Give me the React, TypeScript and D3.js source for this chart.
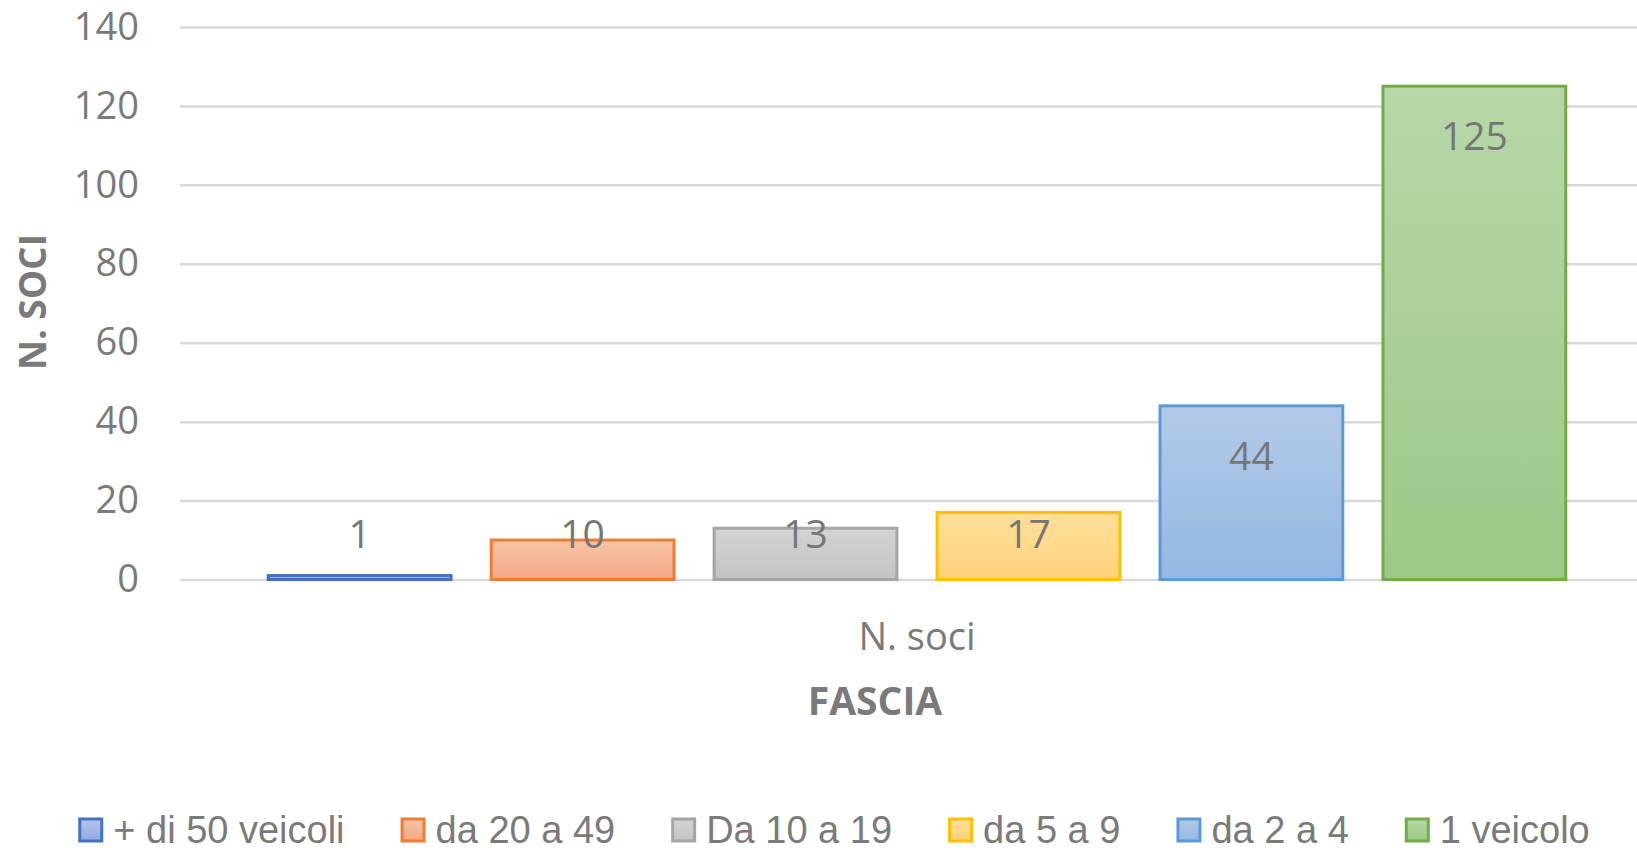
import React, { useEffect, useRef } from 'react';
import * as d3 from 'd3';

// data
const categories = ['N. soci'];
const seriesNames = ['+ di 50 veicoli', 'da 20 a 49', 'Da 10 a 19', 'da 5 a 9', 'da 2 a 4', '1 veicolo'];
const seriesValues = [1, 10, 13, 17, 44, 125];
const yTicks = [0, 20, 40, 60, 80, 100, 120, 140];

const strokeColors = ['#4472C4', '#ED7D31', '#A5A5A5', '#FFC000', '#5B9BD5', '#70AD47'];
const fillTop = ['#b4c5ea', '#f7c4a6', '#d3d3d3', '#ffdf9c', '#b3cae7', '#b8d7a8'];
const fillBottom = ['#8faadc', '#f4a886', '#c3c3c3', '#ffd27a', '#93b8e2', '#9cc987'];

const W = 1637;
const H = 852;

const App = () => {
  const ref = useRef<SVGSVGElement>(null);

  useEffect(() => {
    const svg = d3.select(ref.current);
    svg.selectAll('*').remove();

    const plotLeft = 180;
    const plotRight = 1654;
    const plotTop = 27;
    const plotBottom = 579.5;
    const textCol = '#7a7a7a';
    const font = "'Open Sans', 'Noto Sans', sans-serif";

    const y = d3.scaleLinear().domain([0, 140]).range([plotBottom, plotTop]);
    const x0 = d3.scaleBand().domain(categories).range([plotLeft, plotRight]).paddingOuter(0.068);
    const x1 = d3.scaleBand().domain(seriesNames).range([0, x0.bandwidth()]).paddingInner(0.18);

    const defs = svg.append('defs');
    seriesNames.forEach((s, i) => {
      const g = defs.append('linearGradient')
        .attr('id', 'grad' + i)
        .attr('x1', 0).attr('y1', 0).attr('x2', 0).attr('y2', 1);
      g.append('stop').attr('offset', '0%').attr('stop-color', fillTop[i]);
      g.append('stop').attr('offset', '100%').attr('stop-color', fillBottom[i]);
    });

    // grid + y ticks
    const yAxis = svg.append('g')
      .attr('transform', `translate(${plotLeft},0)`)
      .call(d3.axisLeft(y).tickValues(yTicks).tickSizeInner(-(W - plotLeft)).tickSizeOuter(0).tickPadding(41));
    yAxis.select('.domain').remove();
    yAxis.selectAll('line').attr('stroke', '#d9d9d9').attr('stroke-width', 2.5);
    yAxis.selectAll('text')
      .attr('fill', textCol)
      .style('font-family', font)
      .style('font-size', '38px');

    // bars
    const grp = svg.append('g').attr('transform', `translate(${x0(categories[0])},0)`);
    grp.selectAll('rect')
      .data(seriesValues)
      .enter()
      .append('rect')
      .attr('x', (d, i) => x1(seriesNames[i]) as number)
      .attr('y', d => y(d))
      .attr('width', x1.bandwidth())
      .attr('height', d => y(0) - y(d))
      .attr('fill', (d, i) => `url(#grad${i})`)
      .attr('stroke', (d, i) => strokeColors[i])
      .attr('stroke-width', 3);

    // data labels
    grp.selectAll('text.lbl')
      .data(seriesValues)
      .enter()
      .append('text')
      .attr('class', 'lbl')
      .attr('x', (d, i) => (x1(seriesNames[i]) as number) + x1.bandwidth() / 2)
      .attr('y', d => Math.min(y(d) + 50, y(0) - 45))
      .attr('dy', '0.35em')
      .attr('text-anchor', 'middle')
      .attr('fill', '#767676')
      .style('font-family', font)
      .style('font-size', '39px')
      .text(d => d);

    // category label
    svg.append('text')
      .attr('x', (x0(categories[0]) as number) + x0.bandwidth() / 2)
      .attr('y', 637)
      .attr('dy', '0.35em')
      .attr('text-anchor', 'middle')
      .attr('fill', textCol)
      .style('font-family', font)
      .style('font-size', '38px')
      .text(categories[0]);

    // axis titles
    svg.append('text')
      .attr('x', 875)
      .attr('y', 701)
      .attr('dy', '0.35em')
      .attr('text-anchor', 'middle')
      .attr('fill', textCol)
      .style('font-family', font)
      .style('font-weight', 700)
      .style('font-size', '39px')
      .text('FASCIA');

    svg.append('text')
      .attr('transform', 'translate(33,302) rotate(-90)')
      .attr('dy', '0.35em')
      .attr('text-anchor', 'middle')
      .attr('fill', textCol)
      .style('font-family', font)
      .style('font-weight', 700)
      .style('font-size', '37px')
      .text('N. SOCI');

    // legend
    const legend = svg.append('g');
    const legendY = 830;
    const sw = 25;
    const gap = 56;
    const items = legend.selectAll('g')
      .data(seriesNames)
      .enter()
      .append('g');
    items.append('rect')
      .attr('width', sw - 3)
      .attr('height', sw - 3)
      .attr('x', 1.5)
      .attr('y', -sw / 2 + 1.5)
      .attr('fill', (d, i) => `url(#grad${i})`)
      .attr('stroke', (d, i) => strokeColors[i])
      .attr('stroke-width', 3);
    items.append('text')
      .attr('x', sw + 10)
      .attr('dy', '0.35em')
      .attr('fill', textCol)
      .style('font-family', "'Liberation Sans', Arial, sans-serif")
      .style('font-size', '38px')
      .text(d => d);

    let cx = 0;
    items.each(function () {
      const g = d3.select(this);
      const tw = (g.select('text').node() as SVGTextElement).getComputedTextLength();
      g.attr('transform', `translate(${cx},${legendY})`);
      cx += sw + 10 + tw + gap;
    });
    const total = cx - gap;
    legend.attr('transform', `translate(${834 - total / 2},0)`);
  });

  return (
    <svg ref={ref} width={W} height={H} style={{ position: 'absolute', left: 0, top: 0, background: '#fff' }} />
  );
};

export default App;
